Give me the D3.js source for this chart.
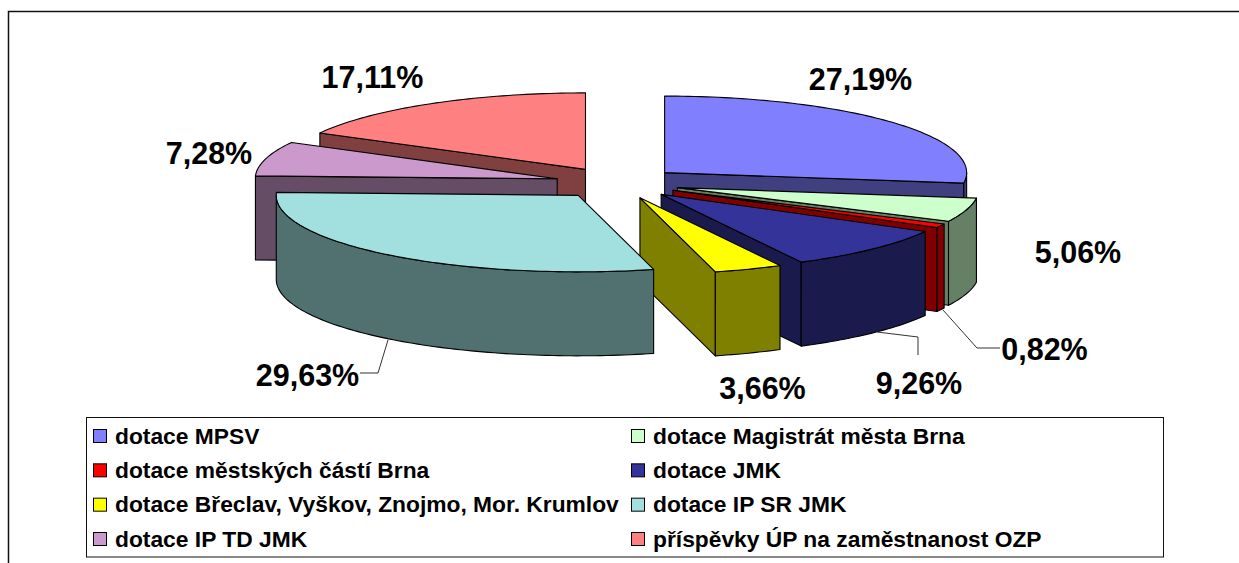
<!DOCTYPE html>
<html>
<head>
<meta charset="utf-8">
<script src="https://d3js.org/d3.v7.min.js"></script>
<style>
  html, body { margin: 0; padding: 0; background: #fff; }
  svg { display: block; }
  text { font-family: "Liberation Sans", Arial, sans-serif; font-weight: bold; fill: #000; }
</style>
</head>
<body>
<div id="content"></div>
<script>
var categories = [
  "dotace MPSV",
  "dotace Magistrát města Brna",
  "dotace městských částí Brna",
  "dotace JMK",
  "dotace Břeclav, Vyškov, Znojmo, Mor. Krumlov",
  "dotace IP SR JMK",
  "dotace IP TD JMK",
  "příspěvky ÚP na zaměstnanost OZP"
];
var shares = [27.19, 5.06, 0.82, 9.26, 3.66, 29.63, 7.28, 17.11];
var valueLabels = ["27,19%", "5,06%", "0,82%", "9,26%", "3,66%", "29,63%", "7,28%", "17,11%"];
var colors = ["#8080ff", "#ccffcc", "#ff0000", "#333399", "#ffff00", "#a2e0e0", "#cc99cc", "#ff8080"];

var width = 1239, height = 563;

// pie geometry
var cx = 617.5, cy = 183, rx = 302, ry = 76.5, depth = 84, explode = 0.207;

// painter's order, back to front
var drawOrder = [7, 6, 0, 1, 2, 3, 4, 5];

// label anchor (centre x, baseline y), then optional leader line
var labelLayout = [
  {x: 860.5, y: 90},
  {x: 1078, y: 263},
  {x: 1044.5, y: 360, leader: [[943, 310], [977, 348], [1000, 348]]},
  {x: 919, y: 394, leader: [[877, 332], [918, 337], [918, 355]]},
  {x: 762.5, y: 399},
  {x: 307.5, y: 386, leader: [[388, 340], [378, 373], [360, 373]]},
  {x: 209, y: 164},
  {x: 372.5, y: 88}
];

var svg = d3.select("#content").append("svg")
  .attr("width", width)
  .attr("height", height);

// outer frame runs off the right and bottom of the picture
svg.append("path")
  .attr("d", "M8.5,570V11.5H1245")
  .attr("fill", "none")
  .attr("stroke", "#111")
  .attr("stroke-width", 1.5);

var pie = d3.pie().sort(null).value(function(d) { return d; });
var arcs = pie(shares);

var line = d3.line();

function darker(c) {
  var k = d3.rgb(c);
  return d3.rgb(k.r / 2, k.g / 2, k.b / 2).formatHex();
}

function rim(o, a, dy) {
  return [o.x + rx * Math.sin(a), o.y - ry * Math.cos(a) + dy];
}

function rimPoints(o, a0, a1, dy) {
  var steps = Math.max(2, Math.ceil((a1 - a0) / 0.02));
  return d3.range(steps + 1).map(function(i) {
    return rim(o, a0 + (a1 - a0) * i / steps, dy);
  });
}

var pieG = svg.append("g")
  .attr("stroke", "#000")
  .attr("stroke-width", 1.1)
  .attr("stroke-linejoin", "round");

drawOrder.forEach(function(i) {
  var d = arcs[i];
  var mid = (d.startAngle + d.endAngle) / 2;
  var o = {
    x: cx + explode * rx * Math.sin(mid),
    y: cy - explode * ry * Math.cos(mid)
  };
  var side = darker(colors[i]);
  var apex = [o.x, o.y];
  var g = pieG.append("g");

  // radial walls, only the ones that face the viewer
  if (Math.sin(d.startAngle) < -0.001) {
    var s = rim(o, d.startAngle, 0);
    g.append("path").attr("fill", side)
      .attr("d", line([apex, s, [s[0], s[1] + depth], [o.x, o.y + depth]]) + "Z");
  }
  if (Math.sin(d.endAngle) > 0.001) {
    var e = rim(o, d.endAngle, 0);
    g.append("path").attr("fill", side)
      .attr("d", line([apex, e, [e[0], e[1] + depth], [o.x, o.y + depth]]) + "Z");
  }

  // outer wall, front half of the ellipse only
  var a0 = Math.max(d.startAngle, Math.PI / 2);
  var a1 = Math.min(d.endAngle, Math.PI * 1.5);
  if (a1 > a0) {
    var topEdge = rimPoints(o, a0, a1, 0);
    var bottomEdge = rimPoints(o, a0, a1, depth).reverse();
    g.append("path").attr("fill", side)
      .attr("d", line(topEdge.concat(bottomEdge)) + "Z");
  }

  // top face
  g.append("path").attr("fill", colors[i])
    .attr("d", line([apex].concat(rimPoints(o, d.startAngle, d.endAngle, 0))) + "Z");
});

// leader lines and value labels
labelLayout.forEach(function(p, i) {
  if (p.leader) {
    svg.append("path")
      .attr("d", line(p.leader))
      .attr("fill", "none")
      .attr("stroke", "#333")
      .attr("stroke-width", 1);
  }
  svg.append("text")
    .attr("x", p.x)
    .attr("y", p.y)
    .attr("text-anchor", "middle")
    .style("font-size", "30.5px")
    .text(valueLabels[i]);
});

// legend
svg.append("rect")
  .attr("x", 86.5).attr("y", 417.5)
  .attr("width", 1077).attr("height", 139.5)
  .attr("fill", "#fff")
  .attr("stroke", "#111")
  .attr("stroke-width", 1);

var legendX = d3.scaleOrdinal().domain([0, 1]).range([93, 631]);
var legendY = d3.scalePoint().domain(d3.range(4)).range([436, 539]);

var legend = svg.selectAll(".legend-item")
  .data(categories)
  .enter().append("g")
  .attr("class", "legend-item")
  .attr("transform", function(d, i) {
    return "translate(" + legendX(i % 2) + "," + legendY(Math.floor(i / 2)) + ")";
  });

legend.append("rect")
  .attr("x", 0.5).attr("y", -6.5)
  .attr("width", 13).attr("height", 13)
  .attr("fill", function(d, i) { return colors[i]; })
  .attr("stroke", "#000")
  .attr("stroke-width", 1);

legend.append("text")
  .attr("x", 22)
  .attr("y", 7.5)
  .style("font-size", "22.8px")
  .text(function(d) { return d; });
</script>
</body>
</html>
